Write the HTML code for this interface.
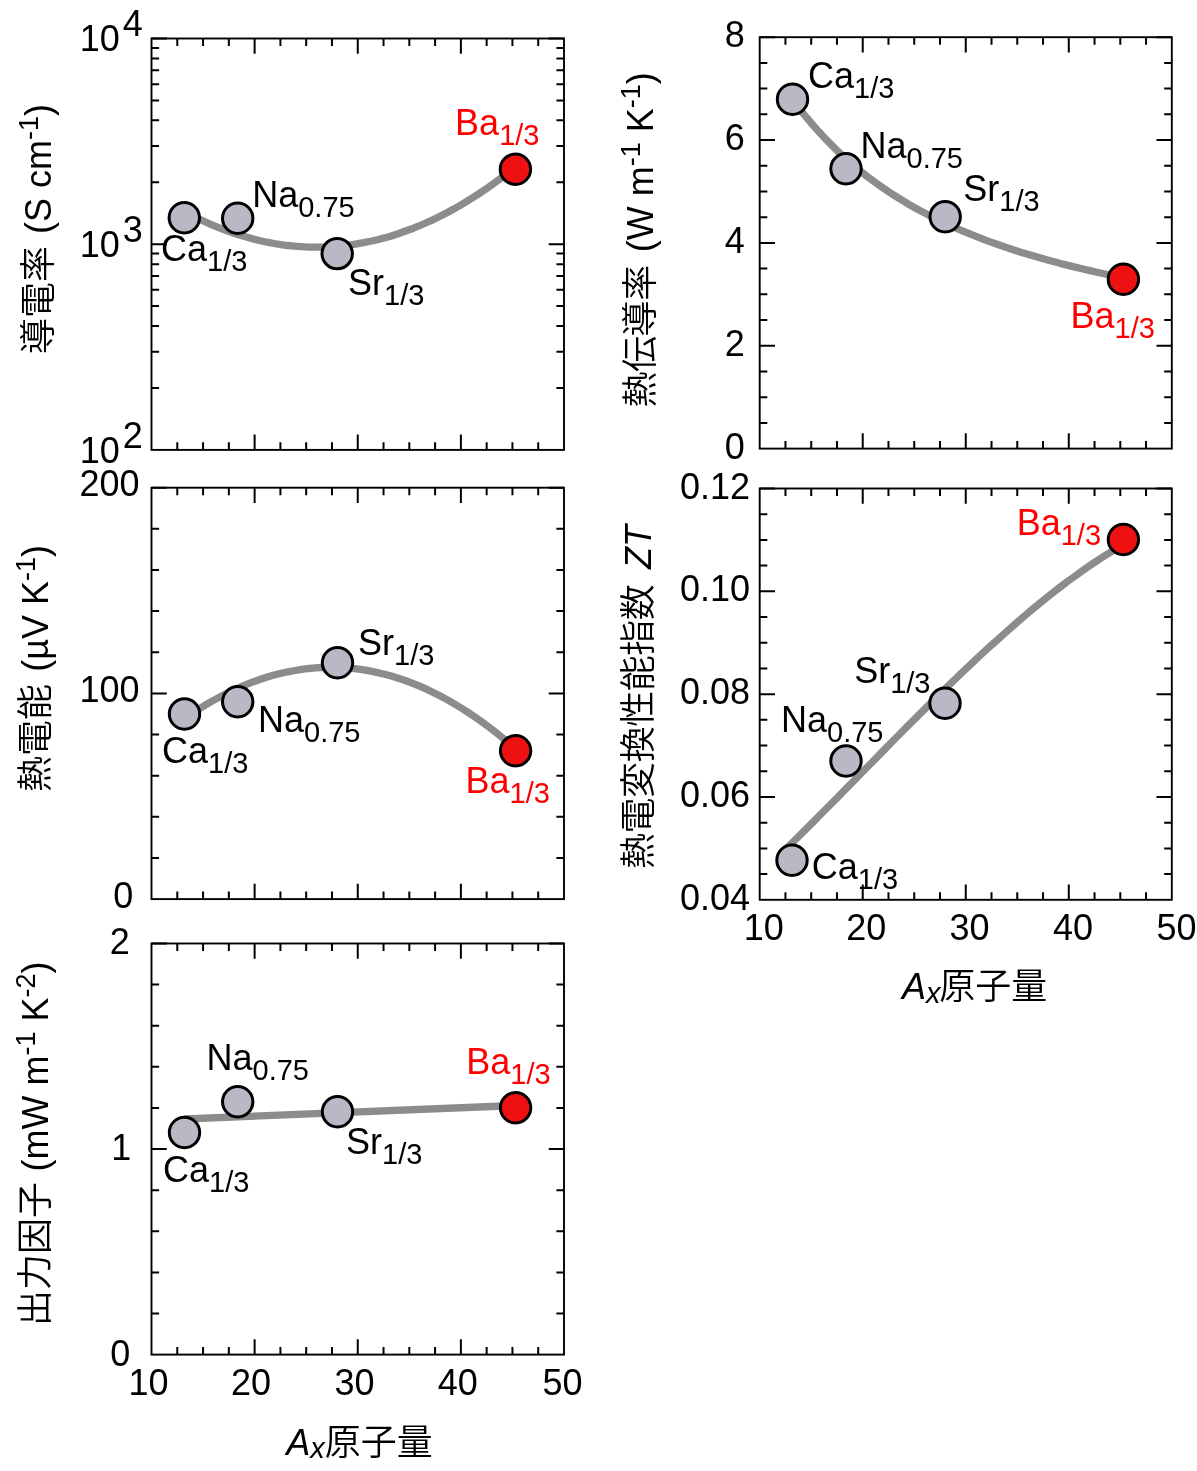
<!DOCTYPE html>
<html lang="ja"><head><meta charset="utf-8"><title>Thermoelectric properties vs atomic mass</title>
<style>
html,body{margin:0;padding:0;background:#fff}
svg{display:block}
text{font-family:"Liberation Sans", "Noto Sans CJK JP", sans-serif;}
.j{font-weight:350}
</style></head><body>
<svg width="1197" height="1471" viewBox="0 0 1197 1471">
<rect width="1197" height="1471" fill="#fff"/>
<path d="M184.3 211.5L191.2 215.1L198.1 218.5L205.0 221.7L211.9 224.8L218.8 227.6L225.7 230.3L232.6 232.8L239.5 235.0L246.4 237.1L253.3 239.0L260.2 240.7L267.1 242.2L274.0 243.5L280.9 244.6L287.8 245.5L294.7 246.2L301.6 246.7L308.5 247.1L315.4 247.2L322.3 247.1L329.2 246.9L336.1 246.4L343.0 245.8L349.9 245.0L356.7 243.9L363.6 242.7L370.5 241.3L377.4 239.7L384.3 237.9L391.2 235.9L398.1 233.7L405.0 231.3L411.9 228.8L418.8 226.0L425.7 223.0L432.6 219.9L439.5 216.5L446.4 213.0L453.3 209.3L460.2 205.3L467.1 201.2L474.0 196.9L480.9 192.4L487.8 187.7L494.7 182.8L501.6 177.7L508.5 172.4L515.4 166.9" fill="none" stroke="#8c8c8c" stroke-width="7.3" stroke-linecap="butt"/>
<rect x="151.5" y="38.5" width="412.50" height="411.40" fill="none" stroke="#000" stroke-width="1.9"/>
<path d="M177.28 38.5v7.6M177.28 449.9v-7.6M203.06 38.5v7.6M203.06 449.9v-7.6M228.84 38.5v7.6M228.84 449.9v-7.6M254.62 38.5v15.3M254.62 449.9v-15.3M280.41 38.5v7.6M280.41 449.9v-7.6M306.19 38.5v7.6M306.19 449.9v-7.6M331.97 38.5v7.6M331.97 449.9v-7.6M357.75 38.5v15.3M357.75 449.9v-15.3M383.53 38.5v7.6M383.53 449.9v-7.6M409.31 38.5v7.6M409.31 449.9v-7.6M435.09 38.5v7.6M435.09 449.9v-7.6M460.88 38.5v15.3M460.88 449.9v-15.3M486.66 38.5v7.6M486.66 449.9v-7.6M512.44 38.5v7.6M512.44 449.9v-7.6M538.22 38.5v7.6M538.22 449.9v-7.6" stroke="#000" stroke-width="2.0" fill="none"/>
<path d="M151.5 387.98h7.6M564.0 387.98h-7.6M151.5 351.76h7.6M564.0 351.76h-7.6M151.5 326.06h7.6M564.0 326.06h-7.6M151.5 306.12h7.6M564.0 306.12h-7.6M151.5 289.83h7.6M564.0 289.83h-7.6M151.5 276.06h7.6M564.0 276.06h-7.6M151.5 264.13h7.6M564.0 264.13h-7.6M151.5 253.61h7.6M564.0 253.61h-7.6M151.5 244.20h15.3M564.0 244.20h-15.3M151.5 182.28h7.6M564.0 182.28h-7.6M151.5 146.06h7.6M564.0 146.06h-7.6M151.5 120.36h7.6M564.0 120.36h-7.6M151.5 100.42h7.6M564.0 100.42h-7.6M151.5 84.13h7.6M564.0 84.13h-7.6M151.5 70.36h7.6M564.0 70.36h-7.6M151.5 58.43h7.6M564.0 58.43h-7.6M151.5 47.91h7.6M564.0 47.91h-7.6M151.5 38.5h15.3M564.0 38.5h-15.3" stroke="#000" stroke-width="2.0" fill="none"/>
<circle cx="184.3" cy="217.8" r="15.2" fill="#b9b9c5" stroke="#000" stroke-width="3"/>
<circle cx="237.7" cy="218.3" r="15.2" fill="#b9b9c5" stroke="#000" stroke-width="3"/>
<circle cx="337.2" cy="253.6" r="15.2" fill="#b9b9c5" stroke="#000" stroke-width="3"/>
<circle cx="515.4" cy="169.3" r="15.2" fill="#ee1111" stroke="#000" stroke-width="3"/>
<text x="455.1" y="134.7" font-size="36" fill="#ff0000">Ba<tspan font-size="29" dy="10">1/3</tspan></text>
<text x="252.2" y="207" font-size="36" fill="#000">Na<tspan font-size="29" dy="10">0.75</tspan></text>
<text x="161" y="261" font-size="36" fill="#000">Ca<tspan font-size="29" dy="10">1/3</tspan></text>
<text x="348" y="294.5" font-size="36" fill="#000">Sr<tspan font-size="29" dy="10">1/3</tspan></text>
<text x="79.7" y="51.1" font-size="36">10<tspan dx="3" dy="-15">4</tspan></text>
<text x="79.7" y="256.5" font-size="36">10<tspan dx="3" dy="-15">3</tspan></text>
<text x="79.7" y="462.6" font-size="36">10<tspan dx="3" dy="-15">2</tspan></text>
<text transform="translate(51 354) rotate(-90)" font-size="36" class="j" letter-spacing="0">導電率</text>
<text transform="translate(51 104) rotate(-90)" font-size="36" text-anchor="end">(S cm<tspan font-size="27" dy="-13">-1</tspan><tspan dy="13">)</tspan></text>
<path d="M184.5 718.7L191.4 714.0L198.3 709.5L205.2 705.2L212.1 701.2L219.0 697.4L225.9 693.8L232.8 690.4L239.7 687.3L246.6 684.4L253.5 681.7L260.4 679.3L267.3 677.0L274.2 675.1L281.1 673.3L288.0 671.8L294.9 670.5L301.8 669.4L308.7 668.5L315.6 667.9L322.5 667.5L329.4 667.3L336.3 667.4L343.2 667.7L350.1 668.2L356.9 668.9L363.8 669.9L370.7 671.1L377.6 672.6L384.5 674.2L391.4 676.1L398.3 678.2L405.2 680.5L412.1 683.1L419.0 685.9L425.9 688.9L432.8 692.2L439.7 695.7L446.6 699.4L453.5 703.3L460.4 707.5L467.3 711.9L474.2 716.5L481.1 721.3L488.0 726.4L494.9 731.7L501.8 737.2L508.7 743.0L515.6 749.0" fill="none" stroke="#8c8c8c" stroke-width="7.3" stroke-linecap="butt"/>
<rect x="151.5" y="487.7" width="412.50" height="411.40" fill="none" stroke="#000" stroke-width="1.9"/>
<path d="M177.28 487.7v7.6M177.28 899.1v-7.6M203.06 487.7v7.6M203.06 899.1v-7.6M228.84 487.7v7.6M228.84 899.1v-7.6M254.62 487.7v15.3M254.62 899.1v-15.3M280.41 487.7v7.6M280.41 899.1v-7.6M306.19 487.7v7.6M306.19 899.1v-7.6M331.97 487.7v7.6M331.97 899.1v-7.6M357.75 487.7v15.3M357.75 899.1v-15.3M383.53 487.7v7.6M383.53 899.1v-7.6M409.31 487.7v7.6M409.31 899.1v-7.6M435.09 487.7v7.6M435.09 899.1v-7.6M460.88 487.7v15.3M460.88 899.1v-15.3M486.66 487.7v7.6M486.66 899.1v-7.6M512.44 487.7v7.6M512.44 899.1v-7.6M538.22 487.7v7.6M538.22 899.1v-7.6" stroke="#000" stroke-width="2.0" fill="none"/>
<path d="M151.5 857.96h7.6M564.0 857.96h-7.6M151.5 816.82h7.6M564.0 816.82h-7.6M151.5 775.68h7.6M564.0 775.68h-7.6M151.5 734.54h7.6M564.0 734.54h-7.6M151.5 693.40h15.3M564.0 693.40h-15.3M151.5 652.26h7.6M564.0 652.26h-7.6M151.5 611.12h7.6M564.0 611.12h-7.6M151.5 569.98h7.6M564.0 569.98h-7.6M151.5 528.84h7.6M564.0 528.84h-7.6M151.5 487.70h15.3M564.0 487.70h-15.3" stroke="#000" stroke-width="2.0" fill="none"/>
<circle cx="184.5" cy="714" r="15.2" fill="#b9b9c5" stroke="#000" stroke-width="3"/>
<circle cx="237.7" cy="701.8" r="15.2" fill="#b9b9c5" stroke="#000" stroke-width="3"/>
<circle cx="337.5" cy="662.8" r="15.2" fill="#b9b9c5" stroke="#000" stroke-width="3"/>
<circle cx="515.6" cy="750.8" r="15.2" fill="#ee1111" stroke="#000" stroke-width="3"/>
<text x="358" y="655" font-size="36" fill="#000">Sr<tspan font-size="29" dy="10">1/3</tspan></text>
<text x="258" y="731.5" font-size="36" fill="#000">Na<tspan font-size="29" dy="10">0.75</tspan></text>
<text x="162" y="763" font-size="36" fill="#000">Ca<tspan font-size="29" dy="10">1/3</tspan></text>
<text x="465.5" y="793.4" font-size="36" fill="#ff0000">Ba<tspan font-size="29" dy="10">1/3</tspan></text>
<text x="139.5" y="496.2" font-size="36" text-anchor="end" fill="#000" >200</text>
<text x="139.5" y="702" font-size="36" text-anchor="end" fill="#000" >100</text>
<text x="133.2" y="908.1" font-size="36" text-anchor="end" fill="#000" >0</text>
<text transform="translate(48.3 792) rotate(-90)" font-size="36" class="j" letter-spacing="0">熱電能</text>
<text transform="translate(48.3 545) rotate(-90)" font-size="36" text-anchor="end">(µV K<tspan font-size="27" dy="-13">-1</tspan><tspan dy="13">)</tspan></text>
<path d="M184.3 1119L515.6 1105.5" fill="none" stroke="#8c8c8c" stroke-width="7.3" stroke-linecap="butt"/>
<rect x="151.5" y="943.5" width="412.50" height="411.10" fill="none" stroke="#000" stroke-width="1.9"/>
<path d="M177.28 943.5v7.6M177.28 1354.6v-7.6M203.06 943.5v7.6M203.06 1354.6v-7.6M228.84 943.5v7.6M228.84 1354.6v-7.6M254.62 943.5v15.3M254.62 1354.6v-15.3M280.41 943.5v7.6M280.41 1354.6v-7.6M306.19 943.5v7.6M306.19 1354.6v-7.6M331.97 943.5v7.6M331.97 1354.6v-7.6M357.75 943.5v15.3M357.75 1354.6v-15.3M383.53 943.5v7.6M383.53 1354.6v-7.6M409.31 943.5v7.6M409.31 1354.6v-7.6M435.09 943.5v7.6M435.09 1354.6v-7.6M460.88 943.5v15.3M460.88 1354.6v-15.3M486.66 943.5v7.6M486.66 1354.6v-7.6M512.44 943.5v7.6M512.44 1354.6v-7.6M538.22 943.5v7.6M538.22 1354.6v-7.6" stroke="#000" stroke-width="2.0" fill="none"/>
<path d="M151.5 1313.49h7.6M564.0 1313.49h-7.6M151.5 1272.38h7.6M564.0 1272.38h-7.6M151.5 1231.27h7.6M564.0 1231.27h-7.6M151.5 1190.16h7.6M564.0 1190.16h-7.6M151.5 1149.05h15.3M564.0 1149.05h-15.3M151.5 1107.94h7.6M564.0 1107.94h-7.6M151.5 1066.83h7.6M564.0 1066.83h-7.6M151.5 1025.72h7.6M564.0 1025.72h-7.6M151.5 984.61h7.6M564.0 984.61h-7.6M151.5 943.50h15.3M564.0 943.50h-15.3" stroke="#000" stroke-width="2.0" fill="none"/>
<circle cx="184.5" cy="1132.5" r="15.2" fill="#b9b9c5" stroke="#000" stroke-width="3"/>
<circle cx="237.7" cy="1101.8" r="15.2" fill="#b9b9c5" stroke="#000" stroke-width="3"/>
<circle cx="337.5" cy="1111.8" r="15.2" fill="#b9b9c5" stroke="#000" stroke-width="3"/>
<circle cx="515.6" cy="1107.8" r="15.2" fill="#ee1111" stroke="#000" stroke-width="3"/>
<text x="206.5" y="1069.5" font-size="36" fill="#000">Na<tspan font-size="29" dy="10">0.75</tspan></text>
<text x="466.3" y="1074" font-size="36" fill="#ff0000">Ba<tspan font-size="29" dy="10">1/3</tspan></text>
<text x="346" y="1153.5" font-size="36" fill="#000">Sr<tspan font-size="29" dy="10">1/3</tspan></text>
<text x="163" y="1181.5" font-size="36" fill="#000">Ca<tspan font-size="29" dy="10">1/3</tspan></text>
<text x="129.7" y="953.9" font-size="36" text-anchor="end" fill="#000" >2</text>
<text x="131.2" y="1160" font-size="36" text-anchor="end" fill="#000" >1</text>
<text x="130.2" y="1365.7" font-size="36" text-anchor="end" fill="#000" >0</text>
<text x="148.6" y="1395.2" font-size="36" text-anchor="middle" fill="#000" >10</text>
<text x="251.12" y="1395.2" font-size="36" text-anchor="middle" fill="#000" >20</text>
<text x="354.55" y="1395.2" font-size="36" text-anchor="middle" fill="#000" >30</text>
<text x="457.88" y="1395.2" font-size="36" text-anchor="middle" fill="#000" >40</text>
<text x="562.5" y="1395.2" font-size="36" text-anchor="middle" fill="#000" >50</text>
<text x="286.3" y="1454.5" font-size="36"><tspan font-style="italic">A</tspan><tspan font-style="italic" font-size="29" dy="3.5">x</tspan><tspan class="j" dy="-3.5" dx="0">原子量</tspan></text>
<text transform="translate(47.9 1326) rotate(-90)" font-size="36" class="j" letter-spacing="0">出力因子</text>
<text transform="translate(47.9 961.5) rotate(-90)" font-size="36" text-anchor="end">(mW m<tspan font-size="27" dy="-13">-1</tspan><tspan dy="13"> K</tspan><tspan font-size="27" dy="-13">-2</tspan><tspan dy="13">)</tspan></text>
<path d="M792.5 99.7L799.4 108.7L806.3 117.2L813.2 125.3L820.1 133.1L827.0 140.4L833.9 147.3L840.8 154.0L847.6 160.2L854.5 166.2L861.4 171.9L868.3 177.3L875.2 182.4L882.1 187.3L889.0 192.0L895.9 196.4L902.8 200.7L909.7 204.8L916.6 208.7L923.5 212.4L930.4 216.0L937.3 219.4L944.2 222.7L951.1 225.9L958.0 229.0L964.8 231.9L971.7 234.7L978.6 237.4L985.5 240.1L992.4 242.6L999.3 245.0L1006.2 247.4L1013.1 249.7L1020.0 251.9L1026.9 254.0L1033.8 256.0L1040.7 258.0L1047.6 260.0L1054.5 261.8L1061.4 263.7L1068.2 265.4L1075.1 267.1L1082.0 268.8L1088.9 270.4L1095.8 272.0L1102.7 273.5L1109.6 275.0L1116.5 276.4L1123.4 277.8" fill="none" stroke="#8c8c8c" stroke-width="7.3" stroke-linecap="butt"/>
<rect x="759.7" y="37.2" width="412.10" height="411.40" fill="none" stroke="#000" stroke-width="1.9"/>
<path d="M785.46 37.2v7.6M785.46 448.6v-7.6M811.21 37.2v7.6M811.21 448.6v-7.6M836.97 37.2v7.6M836.97 448.6v-7.6M862.73 37.2v15.3M862.73 448.6v-15.3M888.48 37.2v7.6M888.48 448.6v-7.6M914.24 37.2v7.6M914.24 448.6v-7.6M939.99 37.2v7.6M939.99 448.6v-7.6M965.75 37.2v15.3M965.75 448.6v-15.3M991.51 37.2v7.6M991.51 448.6v-7.6M1017.26 37.2v7.6M1017.26 448.6v-7.6M1043.02 37.2v7.6M1043.02 448.6v-7.6M1068.78 37.2v15.3M1068.78 448.6v-15.3M1094.53 37.2v7.6M1094.53 448.6v-7.6M1120.29 37.2v7.6M1120.29 448.6v-7.6M1146.04 37.2v7.6M1146.04 448.6v-7.6" stroke="#000" stroke-width="2.0" fill="none"/>
<path d="M759.7 422.89h7.6M1171.8 422.89h-7.6M759.7 397.18h7.6M1171.8 397.18h-7.6M759.7 371.46h7.6M1171.8 371.46h-7.6M759.7 345.75h15.3M1171.8 345.75h-15.3M759.7 320.04h7.6M1171.8 320.04h-7.6M759.7 294.33h7.6M1171.8 294.33h-7.6M759.7 268.61h7.6M1171.8 268.61h-7.6M759.7 242.90h15.3M1171.8 242.90h-15.3M759.7 217.19h7.6M1171.8 217.19h-7.6M759.7 191.48h7.6M1171.8 191.48h-7.6M759.7 165.76h7.6M1171.8 165.76h-7.6M759.7 140.05h15.3M1171.8 140.05h-15.3M759.7 114.34h7.6M1171.8 114.34h-7.6M759.7 88.62h7.6M1171.8 88.62h-7.6M759.7 62.91h7.6M1171.8 62.91h-7.6M759.7 37.20h15.3M1171.8 37.20h-15.3" stroke="#000" stroke-width="2.0" fill="none"/>
<circle cx="792.5" cy="99.2" r="15.2" fill="#b9b9c5" stroke="#000" stroke-width="3"/>
<circle cx="846" cy="168.7" r="15.2" fill="#b9b9c5" stroke="#000" stroke-width="3"/>
<circle cx="945.2" cy="216.7" r="15.2" fill="#b9b9c5" stroke="#000" stroke-width="3"/>
<circle cx="1123.4" cy="279.2" r="15.2" fill="#ee1111" stroke="#000" stroke-width="3"/>
<text x="808" y="87.5" font-size="36" fill="#000">Ca<tspan font-size="29" dy="10">1/3</tspan></text>
<text x="860.5" y="158" font-size="36" fill="#000">Na<tspan font-size="29" dy="10">0.75</tspan></text>
<text x="963.3" y="201.2" font-size="36" fill="#000">Sr<tspan font-size="29" dy="10">1/3</tspan></text>
<text x="1070.5" y="328.3" font-size="36" fill="#ff0000">Ba<tspan font-size="29" dy="10">1/3</tspan></text>
<text x="744.8" y="458.6" font-size="36" text-anchor="end" fill="#000" >0</text>
<text x="744.8" y="355.75" font-size="36" text-anchor="end" fill="#000" >2</text>
<text x="744.8" y="252.9" font-size="36" text-anchor="end" fill="#000" >4</text>
<text x="744.8" y="150.05" font-size="36" text-anchor="end" fill="#000" >6</text>
<text x="744.8" y="47.19999999999999" font-size="36" text-anchor="end" fill="#000" >8</text>
<text transform="translate(653.2 407.5) rotate(-90)" font-size="36" class="j" letter-spacing="-0.45">熱伝導率</text>
<text transform="translate(653.2 72.2) rotate(-90)" font-size="36" text-anchor="end">(W m<tspan font-size="27" dy="-13">-1</tspan><tspan dy="13"> K</tspan><tspan font-size="27" dy="-13">-1</tspan><tspan dy="13">)</tspan></text>
<path d="M787.0 847.9L794.0 841.0L801.0 834.1L808.0 827.1L815.0 820.1L822.0 813.0L829.0 806.0L836.1 798.9L843.1 791.7L850.1 784.6L857.1 777.5L864.1 770.3L871.1 763.2L878.1 756.1L885.1 748.9L892.1 741.8L899.1 734.7L906.1 727.6L913.2 720.6L920.2 713.6L927.2 706.6L934.2 699.7L941.2 692.8L948.2 685.9L955.2 679.2L962.2 672.4L969.2 665.8L976.2 659.2L983.2 652.7L990.2 646.2L997.3 639.9L1004.3 633.6L1011.3 627.4L1018.3 621.3L1025.3 615.3L1032.3 609.4L1039.3 603.7L1046.3 598.0L1053.3 592.4L1060.3 587.0L1067.3 581.7L1074.3 576.6L1081.4 571.5L1088.4 566.6L1095.4 561.9L1102.4 557.3L1109.4 552.9L1116.4 548.6L1123.4 544.5" fill="none" stroke="#8c8c8c" stroke-width="7.3" stroke-linecap="butt"/>
<rect x="759.7" y="488.5" width="412.10" height="411.30" fill="none" stroke="#000" stroke-width="1.9"/>
<path d="M785.46 488.5v7.6M785.46 899.8v-7.6M811.21 488.5v7.6M811.21 899.8v-7.6M836.97 488.5v7.6M836.97 899.8v-7.6M862.73 488.5v15.3M862.73 899.8v-15.3M888.48 488.5v7.6M888.48 899.8v-7.6M914.24 488.5v7.6M914.24 899.8v-7.6M939.99 488.5v7.6M939.99 899.8v-7.6M965.75 488.5v15.3M965.75 899.8v-15.3M991.51 488.5v7.6M991.51 899.8v-7.6M1017.26 488.5v7.6M1017.26 899.8v-7.6M1043.02 488.5v7.6M1043.02 899.8v-7.6M1068.78 488.5v15.3M1068.78 899.8v-15.3M1094.53 488.5v7.6M1094.53 899.8v-7.6M1120.29 488.5v7.6M1120.29 899.8v-7.6M1146.04 488.5v7.6M1146.04 899.8v-7.6" stroke="#000" stroke-width="2.0" fill="none"/>
<path d="M759.7 874.09h7.6M1171.8 874.09h-7.6M759.7 848.39h7.6M1171.8 848.39h-7.6M759.7 822.68h7.6M1171.8 822.68h-7.6M759.7 796.97h15.3M1171.8 796.97h-15.3M759.7 771.27h7.6M1171.8 771.27h-7.6M759.7 745.56h7.6M1171.8 745.56h-7.6M759.7 719.86h7.6M1171.8 719.86h-7.6M759.7 694.15h15.3M1171.8 694.15h-15.3M759.7 668.44h7.6M1171.8 668.44h-7.6M759.7 642.74h7.6M1171.8 642.74h-7.6M759.7 617.03h7.6M1171.8 617.03h-7.6M759.7 591.33h15.3M1171.8 591.33h-15.3M759.7 565.62h7.6M1171.8 565.62h-7.6M759.7 539.91h7.6M1171.8 539.91h-7.6M759.7 514.21h7.6M1171.8 514.21h-7.6M759.7 488.50h15.3M1171.8 488.50h-15.3" stroke="#000" stroke-width="2.0" fill="none"/>
<circle cx="792" cy="860.2" r="15.2" fill="#b9b9c5" stroke="#000" stroke-width="3"/>
<circle cx="846" cy="761" r="15.2" fill="#b9b9c5" stroke="#000" stroke-width="3"/>
<circle cx="945" cy="703.2" r="15.2" fill="#b9b9c5" stroke="#000" stroke-width="3"/>
<circle cx="1123.4" cy="539.5" r="15.2" fill="#ee1111" stroke="#000" stroke-width="3"/>
<text x="1016.7" y="534.9" font-size="36" fill="#ff0000">Ba<tspan font-size="29" dy="10">1/3</tspan></text>
<text x="854.2" y="683.3" font-size="36" fill="#000">Sr<tspan font-size="29" dy="10">1/3</tspan></text>
<text x="781" y="732" font-size="36" fill="#000">Na<tspan font-size="29" dy="10">0.75</tspan></text>
<text x="811.8" y="878.7" font-size="36" fill="#000">Ca<tspan font-size="29" dy="10">1/3</tspan></text>
<text x="750" y="909.8" font-size="36" text-anchor="end" fill="#000" >0.04</text>
<text x="750" y="806.9749999999999" font-size="36" text-anchor="end" fill="#000" >0.06</text>
<text x="750" y="704.15" font-size="36" text-anchor="end" fill="#000" >0.08</text>
<text x="750" y="601.325" font-size="36" text-anchor="end" fill="#000" >0.10</text>
<text x="750" y="498.5" font-size="36" text-anchor="end" fill="#000" >0.12</text>
<text x="763.7" y="939.5" font-size="36" text-anchor="middle" fill="#000" >10</text>
<text x="866.23" y="939.5" font-size="36" text-anchor="middle" fill="#000" >20</text>
<text x="969.45" y="939.5" font-size="36" text-anchor="middle" fill="#000" >30</text>
<text x="1072.98" y="939.5" font-size="36" text-anchor="middle" fill="#000" >40</text>
<text x="1176.5" y="939.5" font-size="36" text-anchor="middle" fill="#000" >50</text>
<text x="902" y="999" font-size="36"><tspan font-style="italic">A</tspan><tspan font-style="italic" font-size="29" dy="3.5">x</tspan><tspan class="j" dy="-3.5" dx="-1.2">原子量</tspan></text>
<text transform="translate(651 869) rotate(-90)" font-size="36" class="j" letter-spacing="-0.45">熱電変換性能指数</text>
<text transform="translate(651 525) rotate(-90)" font-size="36" text-anchor="end"><tspan font-style="italic">ZT</tspan></text>
</svg>
</body></html>
